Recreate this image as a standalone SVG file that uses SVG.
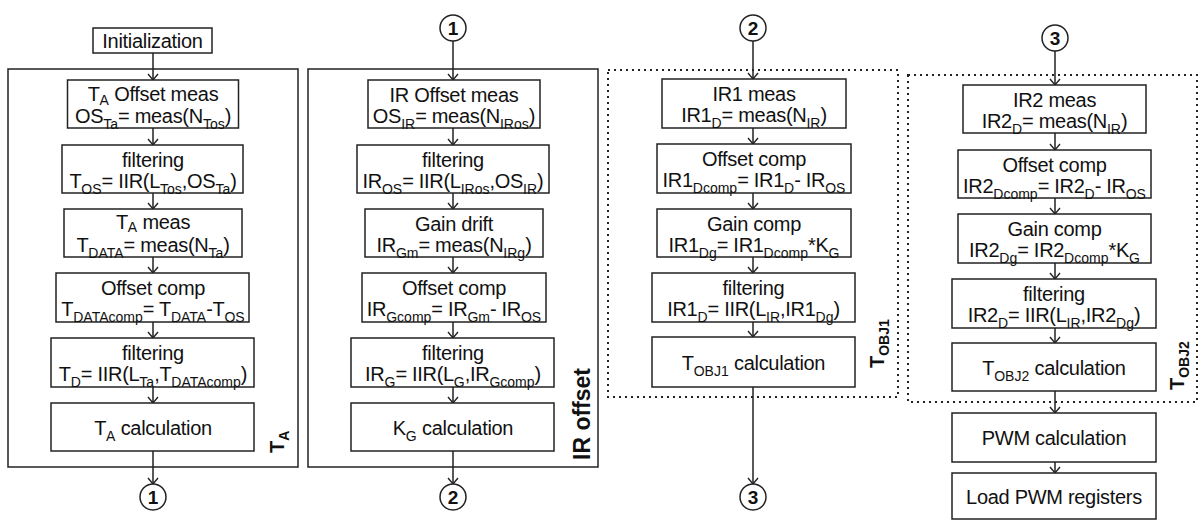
<svg xmlns="http://www.w3.org/2000/svg" width="1200" height="521" viewBox="0 0 1200 521">
<style>
.box{fill:#fff;stroke:#222;stroke-width:1.5}
.frame{fill:none;stroke:#222;stroke-width:1.5}
.dot{fill:none;stroke:#222;stroke-width:2;stroke-dasharray:2 4}
.t{font-family:"Liberation Sans",Arial,sans-serif;font-size:20px;letter-spacing:-0.3px;fill:#111;text-anchor:middle}
.s{font-size:14px;letter-spacing:0}
.c{fill:#fff;stroke:#222;stroke-width:1.5}
.ct{font-family:"Liberation Sans",Arial,sans-serif;font-size:19px;font-weight:bold;fill:#111;text-anchor:middle}
.lab{font-family:"Liberation Sans",Arial,sans-serif;font-weight:bold;fill:#111}
.con line{stroke:#222;stroke-width:1.5;marker-end:url(#arr)}
</style>
<defs>
<marker id="arr" markerUnits="userSpaceOnUse" viewBox="-8 -7 10 14" refX="0" refY="0" markerWidth="10" markerHeight="14" orient="auto">
<path d="M-6,-5 L0,0 L-6,5" fill="none" stroke="#222" stroke-width="1.4"/>
</marker>
</defs>
<rect width="1200" height="521" fill="#fff"/>

<!-- frames -->
<g id="frame-ta"><rect class="frame" x="8" y="69" width="290" height="398"/>
<text class="lab" font-size="20" transform="translate(284,453) rotate(-90)">T<tspan font-size="14" dy="5">A</tspan></text></g>
<g id="frame-ir"><rect class="frame" x="308" y="69" width="290" height="398"/>
<text class="lab" font-size="23" transform="translate(590,460) rotate(-90)">IR offset</text></g>
<g id="frame-tobj1"><rect class="dot" x="608" y="70" width="290" height="327"/>
<text class="lab" font-size="20" transform="translate(884,368) rotate(-90)">T<tspan font-size="14" dy="5">OBJ1</tspan></text></g>
<g id="frame-tobj2"><rect class="dot" x="908" y="75" width="289" height="327"/>
<text class="lab" font-size="20" transform="translate(1184,390) rotate(-90)">T<tspan font-size="14" dy="5">OBJ2</tspan></text></g>

<!-- connectors -->
<g class="con" id="connectors">
<line x1="153" y1="53" x2="153" y2="80"/>
<line x1="153" y1="128" x2="153" y2="145"/>
<line x1="153" y1="193" x2="153" y2="209"/>
<line x1="153" y1="257" x2="153" y2="273"/>
<line x1="153" y1="322" x2="153" y2="338"/>
<line x1="153" y1="387" x2="153" y2="403"/>
<line x1="153" y1="451" x2="153" y2="484"/>
<line x1="453" y1="41" x2="453" y2="80"/>
<line x1="453" y1="128" x2="453" y2="145"/>
<line x1="453" y1="193" x2="453" y2="209"/>
<line x1="453" y1="257" x2="453" y2="273"/>
<line x1="453" y1="322" x2="453" y2="338"/>
<line x1="453" y1="387" x2="453" y2="403"/>
<line x1="453" y1="451" x2="453" y2="484"/>
<line x1="753" y1="41" x2="753" y2="79"/>
<line x1="753" y1="128" x2="753" y2="144"/>
<line x1="753" y1="193" x2="753" y2="209"/>
<line x1="753" y1="257" x2="753" y2="273"/>
<line x1="753" y1="322" x2="753" y2="337"/>
<line x1="753" y1="387" x2="753" y2="484"/>
<line x1="1055" y1="51" x2="1055" y2="85"/>
<line x1="1055" y1="133" x2="1055" y2="150"/>
<line x1="1055" y1="198" x2="1055" y2="214"/>
<line x1="1055" y1="263" x2="1055" y2="279"/>
<line x1="1055" y1="328" x2="1055" y2="343"/>
<line x1="1055" y1="391" x2="1055" y2="413"/>
<line x1="1055" y1="462" x2="1055" y2="473"/>
</g>

<!-- column 1 -->
<g id="init"><rect class="box" x="93" y="28" width="119" height="25"/><text class="t" x="152.5" y="47.5">Initialization</text></g>
<g id="ta-offset"><rect class="box" x="67.5" y="80" width="171" height="48"/>
<text class="t" x="153" y="101">T<tspan class="s" dy="4">A</tspan><tspan dy="-4"> Offset meas</tspan></text>
<text class="t" x="153" y="123">OS<tspan class="s" dy="6">Ta</tspan><tspan dy="-6">= meas(N</tspan><tspan class="s" dy="6">Tos</tspan><tspan dy="-6">)</tspan></text></g>
<g id="ta-filter1"><rect class="box" x="62" y="145" width="181" height="48"/>
<text class="t" x="153" y="167">filtering</text>
<text class="t" x="153" y="188">T<tspan class="s" dy="6">OS</tspan><tspan dy="-6">= IIR(L</tspan><tspan class="s" dy="6">Tos</tspan><tspan dy="-6">,OS</tspan><tspan class="s" dy="6">Ta</tspan><tspan dy="-6">)</tspan></text></g>
<g id="ta-meas"><rect class="box" x="64" y="209" width="178" height="48"/>
<text class="t" x="153" y="229">T<tspan class="s" dy="3">A</tspan><tspan dy="-3"> meas</tspan></text>
<text class="t" x="153" y="252">T<tspan class="s" dy="6">DATA</tspan><tspan dy="-6">= meas(N</tspan><tspan class="s" dy="6">Ta</tspan><tspan dy="-6">)</tspan></text></g>
<g id="ta-offcomp"><rect class="box" x="56" y="273" width="193" height="49"/>
<text class="t" x="153" y="295">Offset comp</text>
<text class="t" x="153" y="316">T<tspan class="s" dy="6">DATAcomp</tspan><tspan dy="-6">= T</tspan><tspan class="s" dy="6">DATA</tspan><tspan dy="-6">-T</tspan><tspan class="s" dy="6">OS</tspan></text></g>
<g id="ta-filter2"><rect class="box" x="51" y="338" width="203" height="49"/>
<text class="t" x="153" y="360">filtering</text>
<text class="t" x="153" y="381">T<tspan class="s" dy="6">D</tspan><tspan dy="-6">= IIR(L</tspan><tspan class="s" dy="6">Ta</tspan><tspan dy="-6">,T</tspan><tspan class="s" dy="6">DATAcomp</tspan><tspan dy="-6">)</tspan></text></g>
<g id="ta-calc"><rect class="box" x="51" y="403" width="203" height="48"/>
<text class="t" x="153" y="435">T<tspan class="s" dy="6">A</tspan><tspan dy="-6"> calculation</tspan></text></g>
<g id="c1-out"><circle class="c" cx="153" cy="497" r="13"/><text class="ct" x="153" y="504">1</text></g>

<!-- column 2 -->
<g id="c1-in"><circle class="c" cx="453" cy="28" r="13"/><text class="ct" x="453" y="35">1</text></g>
<g id="ir-offset"><rect class="box" x="368" y="80" width="172" height="48"/>
<text class="t" x="454" y="102">IR Offset meas</text>
<text class="t" x="454" y="123">OS<tspan class="s" dy="6">IR</tspan><tspan dy="-6">= meas(N</tspan><tspan class="s" dy="6">IRos</tspan><tspan dy="-6">)</tspan></text></g>
<g id="ir-filter1"><rect class="box" x="357" y="145" width="192" height="48"/>
<text class="t" x="453" y="167">filtering</text>
<text class="t" x="453" y="188">IR<tspan class="s" dy="6">OS</tspan><tspan dy="-6">= IIR(L</tspan><tspan class="s" dy="6">IRos</tspan><tspan dy="-6">,OS</tspan><tspan class="s" dy="6">IR</tspan><tspan dy="-6">)</tspan></text></g>
<g id="ir-gain"><rect class="box" x="365" y="209" width="178" height="48"/>
<text class="t" x="454" y="231">Gain drift</text>
<text class="t" x="454" y="252">IR<tspan class="s" dy="6">Gm</tspan><tspan dy="-6">= meas(N</tspan><tspan class="s" dy="6">IRg</tspan><tspan dy="-6">)</tspan></text></g>
<g id="ir-offcomp"><rect class="box" x="362" y="273" width="184" height="49"/>
<text class="t" x="454" y="295">Offset comp</text>
<text class="t" x="454" y="316">IR<tspan class="s" dy="6">Gcomp</tspan><tspan dy="-6">= IR</tspan><tspan class="s" dy="6">Gm</tspan><tspan dy="-6">- IR</tspan><tspan class="s" dy="6">OS</tspan></text></g>
<g id="ir-filter2"><rect class="box" x="351" y="338" width="203" height="49"/>
<text class="t" x="453" y="360">filtering</text>
<text class="t" x="453" y="381">IR<tspan class="s" dy="6">G</tspan><tspan dy="-6">= IIR(L</tspan><tspan class="s" dy="6">G</tspan><tspan dy="-6">,IR</tspan><tspan class="s" dy="6">Gcomp</tspan><tspan dy="-6">)</tspan></text></g>
<g id="kg-calc"><rect class="box" x="351" y="403" width="203" height="48"/>
<text class="t" x="453" y="435">K<tspan class="s" dy="6">G</tspan><tspan dy="-6"> calculation</tspan></text></g>
<g id="c2-out"><circle class="c" cx="453" cy="497" r="13"/><text class="ct" x="453" y="504">2</text></g>

<!-- column 3 -->
<g id="c2-in"><circle class="c" cx="753" cy="28" r="13"/><text class="ct" x="753" y="35">2</text></g>
<g id="ir1-meas"><rect class="box" x="662" y="79" width="184" height="49"/>
<text class="t" x="754" y="101">IR1 meas</text>
<text class="t" x="754" y="122">IR1<tspan class="s" dy="6">D</tspan><tspan dy="-6">= meas(N</tspan><tspan class="s" dy="6">IR</tspan><tspan dy="-6">)</tspan></text></g>
<g id="ir1-offcomp"><rect class="box" x="657" y="144" width="194" height="49"/>
<text class="t" x="754" y="166">Offset comp</text>
<text class="t" x="754" y="187">IR1<tspan class="s" dy="6">Dcomp</tspan><tspan dy="-6">= IR1</tspan><tspan class="s" dy="6">D</tspan><tspan dy="-6">- IR</tspan><tspan class="s" dy="6">OS</tspan></text></g>
<g id="ir1-gain"><rect class="box" x="657" y="209" width="194" height="48"/>
<text class="t" x="754" y="231">Gain comp</text>
<text class="t" x="754" y="252">IR1<tspan class="s" dy="6">Dg</tspan><tspan dy="-6">= IR1</tspan><tspan class="s" dy="6">Dcomp</tspan><tspan dy="-6">*K</tspan><tspan class="s" dy="6">G</tspan></text></g>
<g id="ir1-filter"><rect class="box" x="652" y="273" width="203" height="49"/>
<text class="t" x="753.5" y="295">filtering</text>
<text class="t" x="753.5" y="316">IR1<tspan class="s" dy="6">D</tspan><tspan dy="-6">= IIR(L</tspan><tspan class="s" dy="6">IR</tspan><tspan dy="-6">,IR1</tspan><tspan class="s" dy="6">Dg</tspan><tspan dy="-6">)</tspan></text></g>
<g id="tobj1-calc"><rect class="box" x="652" y="337" width="203" height="50"/>
<text class="t" x="753.5" y="370">T<tspan class="s" dy="6">OBJ1</tspan><tspan dy="-6"> calculation</tspan></text></g>
<g id="c3-out"><circle class="c" cx="753" cy="497" r="13"/><text class="ct" x="753" y="504">3</text></g>

<!-- column 4 -->
<g id="c3-in"><circle class="c" cx="1055" cy="38" r="13"/><text class="ct" x="1055" y="45">3</text></g>
<g id="ir2-meas"><rect class="box" x="963" y="85" width="183" height="48"/>
<text class="t" x="1054.5" y="107">IR2 meas</text>
<text class="t" x="1054.5" y="128">IR2<tspan class="s" dy="6">D</tspan><tspan dy="-6">= meas(N</tspan><tspan class="s" dy="6">IR</tspan><tspan dy="-6">)</tspan></text></g>
<g id="ir2-offcomp"><rect class="box" x="958" y="150" width="193" height="48"/>
<text class="t" x="1054.5" y="172">Offset comp</text>
<text class="t" x="1054.5" y="193">IR2<tspan class="s" dy="6">Dcomp</tspan><tspan dy="-6">= IR2</tspan><tspan class="s" dy="6">D</tspan><tspan dy="-6">- IR</tspan><tspan class="s" dy="6">OS</tspan></text></g>
<g id="ir2-gain"><rect class="box" x="958" y="214" width="193" height="49"/>
<text class="t" x="1054.5" y="236">Gain comp</text>
<text class="t" x="1054.5" y="257">IR2<tspan class="s" dy="6">Dg</tspan><tspan dy="-6">= IR2</tspan><tspan class="s" dy="6">Dcomp</tspan><tspan dy="-6">*K</tspan><tspan class="s" dy="6">G</tspan></text></g>
<g id="ir2-filter"><rect class="box" x="952" y="279" width="204" height="49"/>
<text class="t" x="1054" y="301">filtering</text>
<text class="t" x="1054" y="322">IR2<tspan class="s" dy="6">D</tspan><tspan dy="-6">= IIR(L</tspan><tspan class="s" dy="6">IR</tspan><tspan dy="-6">,IR2</tspan><tspan class="s" dy="6">Dg</tspan><tspan dy="-6">)</tspan></text></g>
<g id="tobj2-calc"><rect class="box" x="952" y="343" width="204" height="48"/>
<text class="t" x="1054" y="375">T<tspan class="s" dy="6">OBJ2</tspan><tspan dy="-6"> calculation</tspan></text></g>
<g id="pwm-calc"><rect class="box" x="952" y="413" width="204" height="49"/>
<text class="t" x="1054" y="445">PWM calculation</text></g>
<g id="pwm-load"><rect class="box" x="952" y="473" width="204" height="46"/>
<text class="t" x="1054" y="504">Load PWM registers</text></g>
</svg>
